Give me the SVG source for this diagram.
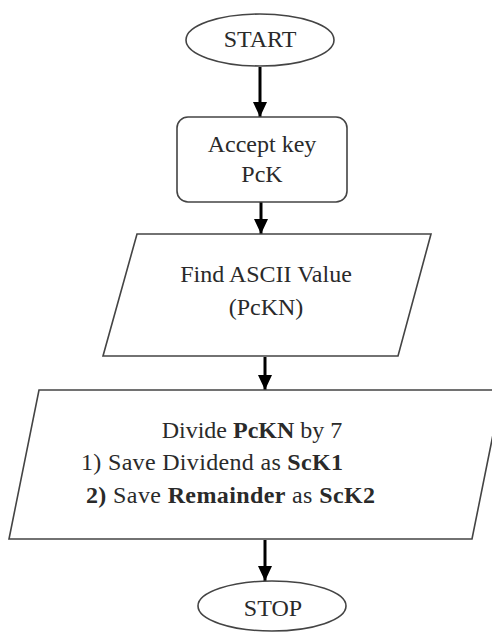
<svg xmlns="http://www.w3.org/2000/svg" width="492" height="632" viewBox="0 0 492 632">
<style>
.shape{fill:#fff;stroke:#444;stroke-width:1.6}
.t{font-family:"Liberation Serif","DejaVu Serif","Times New Roman",serif;font-size:24px;fill:#2a2a2a}
.c{text-anchor:middle}
.b{font-weight:bold}
.conn{stroke:#000;stroke-width:3;fill:none}
</style>
<defs>
<marker id="arr" markerUnits="userSpaceOnUse" markerWidth="16" markerHeight="14" refX="15" refY="7" orient="auto" viewBox="0 0 16 14">
<path d="M0,0 L15,7 L0,14 Z" fill="#000"/>
</marker>
</defs>
<rect width="492" height="632" fill="#fff"/>
<g id="connectors">
<line class="conn" x1="260" y1="67" x2="260" y2="117" marker-end="url(#arr)"/>
<line class="conn" x1="261" y1="202" x2="261" y2="234" marker-end="url(#arr)"/>
<line class="conn" x1="265" y1="357" x2="265" y2="390" marker-end="url(#arr)"/>
<line class="conn" x1="265" y1="540" x2="265" y2="581" marker-end="url(#arr)"/>
</g>
<g id="start">
<ellipse class="shape" cx="260" cy="40" rx="74" ry="26"/>
<text class="t c" x="260" y="47">START</text>
</g>
<g id="accept">
<rect class="shape" x="177" y="117" width="170" height="85" rx="11"/>
<text class="t c" x="262" y="152">Accept key</text>
<text class="t c" x="262" y="182">PcK</text>
</g>
<g id="find">
<polygon class="shape" points="137,234 431,234 398,356 103,356"/>
<text class="t c" x="266" y="282">Find ASCII Value</text>
<text class="t c" x="266" y="315">(PcKN)</text>
</g>
<g id="divide">
<polygon class="shape" points="39,390 502,390 472,539 9,539"/>
<text class="t c" x="252" y="438">Divide <tspan class="b">PcKN</tspan> by 7</text>
<text class="t" x="81" y="470" textLength="262" lengthAdjust="spacing">1) Save Dividend as <tspan class="b">ScK1</tspan></text>
<text class="t" x="86" y="503" textLength="289" lengthAdjust="spacing"><tspan class="b">2)</tspan> Save <tspan class="b">Remainder</tspan> as <tspan class="b">ScK2</tspan></text>
</g>
<g id="stop">
<ellipse class="shape" cx="272" cy="606" rx="74" ry="25"/>
<text class="t c" x="273" y="616">STOP</text>
</g>
</svg>
